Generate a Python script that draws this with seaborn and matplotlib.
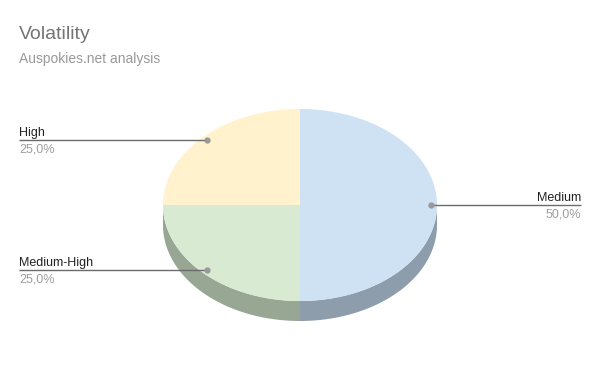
import numpy as np
import matplotlib
matplotlib.use("Agg")
import matplotlib.pyplot as plt
import seaborn as sns

categories = ["Medium", "Medium-High", "High"]
values = [50, 25, 25]
colors = ["#CFE2F3", "#D9EAD3", "#FFF2CC"]
side_colors = ["#8E9DAB", "#98A694"]  # darker side tints for visible slices
side_map = {"Medium": "#8E9DAB", "Medium-High": "#98A694", "High": "#A8A38F"}

sns.set_theme(style="white")
plt.rcParams['font.family'] = ['Liberation Sans', 'DejaVu Sans']

W, H = 600, 371
fig = plt.figure(figsize=(6, 3.71), dpi=100)
ax = fig.add_axes([0, 0, 1, 1])
ax.set_xlim(0, W)
ax.set_ylim(H, 0)
ax.axis("off")

cx, cy, rx, ry, depth = 300, 205, 137, 96, 20

def pt(t, r=1.0, dy=0.0):
    return cx + rx * r * np.sin(t), cy - ry * r * np.cos(t) + dy

total = sum(values)
fracs = np.array(values) / total
ends = np.cumsum(fracs) * 2 * np.pi
starts = ends - fracs * 2 * np.pi

# side walls (visible front half: t in [pi/2, 3pi/2])
for cat, s, e in zip(categories, starts, ends):
    a, b = max(s, np.pi / 2), min(e, 3 * np.pi / 2)
    if b <= a:
        continue
    tt = np.linspace(a, b, 120)
    x1, y1 = pt(tt)
    x2, y2 = pt(tt[::-1], dy=depth)
    ax.fill(np.concatenate([x1, x2]), np.concatenate([y1, y2]),
            color=side_map[cat], lw=0, zorder=1)

# top wedges
for cat, s, e, c in zip(categories, starts, ends, colors):
    tt = np.linspace(s, e, 200)
    x, y = pt(tt)
    ax.fill(np.concatenate([[cx], x]), np.concatenate([[cy], y]),
            color=c, lw=0, zorder=2)

# labels
label_cfg = {
    "Medium": dict(side="right", x_end=581),
    "Medium-High": dict(side="left", x_end=19),
    "High": dict(side="left", x_end=19),
}
for cat, s, e, v in zip(categories, starts, ends, fracs):
    mid = (s + e) / 2
    px, py = pt(mid, r=0.955)
    xe = label_cfg[cat]["x_end"]
    ax.plot([px, xe], [py, py], color="#6b6b6b", lw=1.0, zorder=3,
            solid_capstyle="butt")
    ax.plot([px], [py], "o", color="#999999", ms=3.5, zorder=4)
    ha = "left" if label_cfg[cat]["side"] == "left" else "right"
    ax.text(xe, py - 4, cat, ha=ha, va="baseline", fontsize=9,
            color="#222222", zorder=5)
    pct = f"{v * 100:.1f}%".replace(".", ",")
    ax.text(xe, py + 12.5, pct, ha=ha, va="baseline", fontsize=9,
            color="#9e9e9e", zorder=5)

ax.text(19, 39, "Volatility", ha="left", va="baseline", fontsize=14,
        color="#757575")
ax.text(19, 63, "Auspokies.net analysis", ha="left", va="baseline",
        fontsize=10, color="#999999")

fig.savefig("out.png", dpi=100, facecolor="white")
